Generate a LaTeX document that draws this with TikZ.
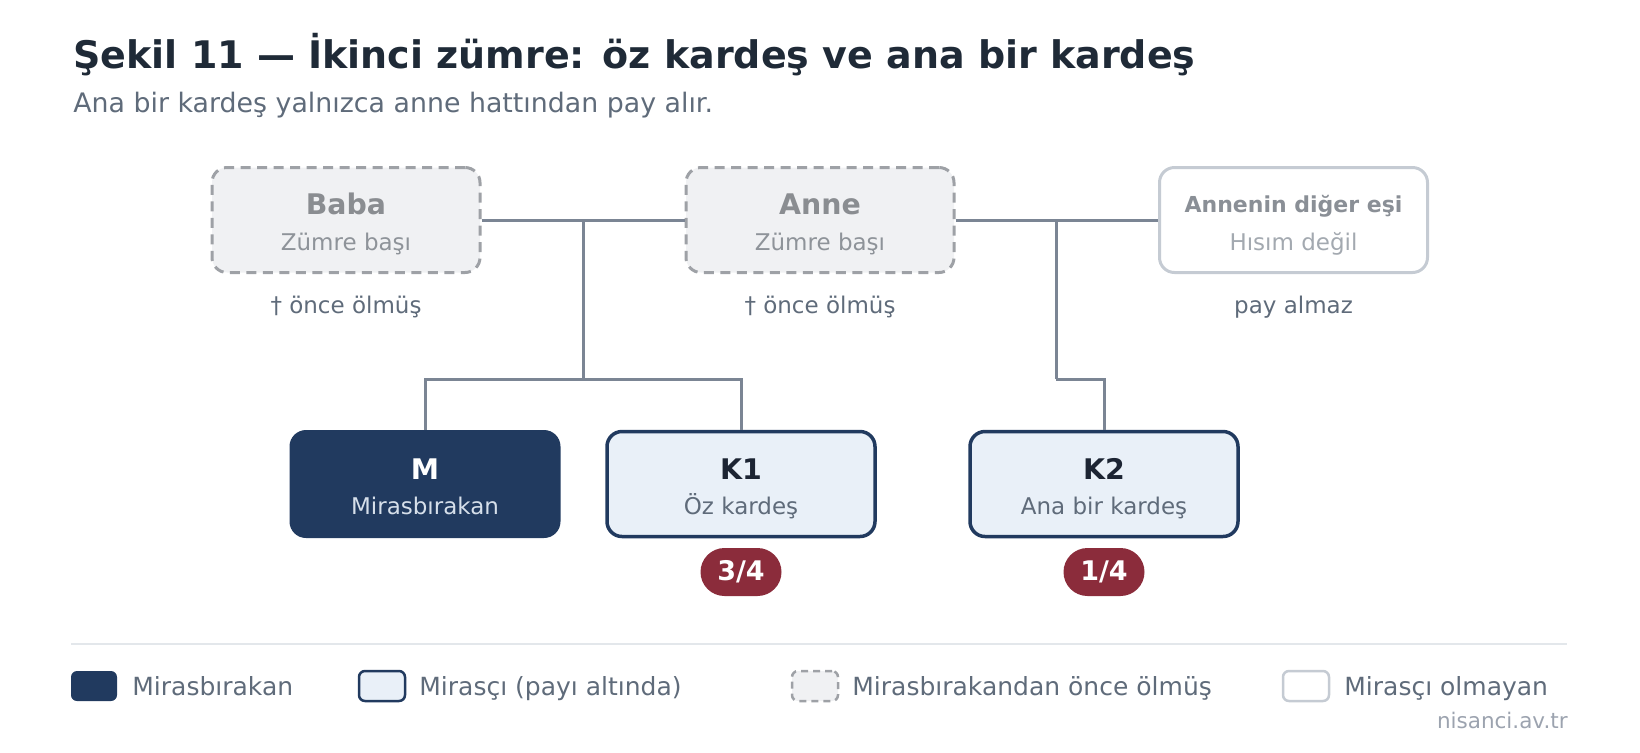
\documentclass[tikz,border=0pt]{standalone}
\usepackage{fontspec}
\setmainfont{DejaVu Sans}
\usepackage{xcolor}
\definecolor{baslikrenk}{HTML}{1F2A37}
\definecolor{gri}{HTML}{5F6B7A}
\definecolor{lacivert}{HTML}{213A5F}
\definecolor{kdolgu}{HTML}{E9F0F8}
\definecolor{kyazi}{HTML}{1C2433}
\definecolor{msoluk}{HTML}{D6DFEA}
\definecolor{oludolgu}{HTML}{F0F1F3}
\definecolor{olucizgi}{HTML}{9EA1A6}
\definecolor{oluyazi}{HTML}{8A8D91}
\definecolor{olualt}{HTML}{8E9399}
\definecolor{yabanci}{HTML}{C5CBD3}
\definecolor{yabanciyazi}{HTML}{8A8F96}
\definecolor{yabancialt}{HTML}{A3A9B0}
\definecolor{bagrenk}{HTML}{7B8594}
\definecolor{payrenk}{HTML}{8B2C3B}
\definecolor{ayracrenk}{HTML}{E3E7EB}
\definecolor{imza}{HTML}{9CA3AF}

\begin{document}
\begin{tikzpicture}[x=0.5pt, y=-0.5pt,
  kutu/.style={rounded corners=7.5pt, minimum width=134pt, minimum height=52.5pt, line width=1.5pt, inner sep=0pt},
  olu/.style={kutu, draw=olucizgi, fill=oludolgu, dash pattern=on 5pt off 3.25pt},
  yabancikutu/.style={kutu, draw=yabanci, fill=white},
  mkutu/.style={kutu, draw=lacivert, fill=lacivert},
  varis/.style={kutu, draw=lacivert, fill=kdolgu, line width=1.75pt},
  isim/.style={anchor=base, inner sep=0pt, font=\fontsize{14.2}{16}\selectfont\bfseries},
  alt/.style={anchor=base, inner sep=0pt, font=\fontsize{11.5}{14}\selectfont},
  not/.style={anchor=base, inner sep=0pt, text=gri, font=\fontsize{11.5}{14}\selectfont},
  pay/.style={fill=payrenk, text=white, rounded corners=12pt, minimum width=40.5pt, minimum height=24pt, inner sep=0pt, font=\fontsize{13.5}{15}\selectfont\bfseries},
  bag/.style={draw=bagrenk, line width=1.5pt},
  lkutu/.style={rounded corners=3pt, minimum width=23pt, minimum height=15pt, inner sep=0pt, line width=1.25pt},
  lyazi/.style={anchor=base west, inner sep=0pt, text=gri, font=\fontsize{12.5}{15}\selectfont}]
  \useasboundingbox (0,0) rectangle (1640,752);

  \node [anchor=base west, inner sep=0pt, text=baslikrenk, font=\fontsize{19}{22}\selectfont\bfseries] (baslik) at (73, 68) {Şekil 11 — İkinci zümre: öz kardeş ve ana bir kardeş};
  \node [anchor=base west, inner sep=0pt, text=gri, font=\fontsize{13.4}{16}\selectfont] (altbaslik) at (73, 112) {Ana bir kardeş yalnızca anne hattından pay alır.};

  \node [olu] (baba) at (346, 220) {};
  \node [isim, text=oluyazi] (babaI) at (346, 214) {Baba};
  \node [alt, text=olualt] (babaA) at (346, 250) {Zümre başı};
  \node [not] (babaN) at (346, 313) {† önce ölmüş};

  \node [olu] (anne) at (820, 220) {};
  \node [isim, text=oluyazi] (anneI) at (820, 214) {Anne};
  \node [alt, text=olualt] (anneA) at (820, 250) {Zümre başı};
  \node [not] (anneN) at (820, 313) {† önce ölmüş};

  \node [yabancikutu] (es) at (1293.5, 220) {};
  \node [isim, text=yabanciyazi, font=\fontsize{11}{14}\selectfont\bfseries] (esI) at (1293.5, 212) {Annenin diğer eşi};
  \node [alt, text=yabancialt] (esA) at (1293.5, 250) {Hısım değil};
  \node [not] (esN) at (1293.5, 313) {pay almaz};

  \node [mkutu] (m) at (425, 484) {};
  \node [isim, text=white] (mI) at (425, 479) {M};
  \node [alt, text=msoluk] (mA) at (425, 514) {Mirasbırakan};

  \node [varis] (k1) at (741, 484) {};
  \node [isim, text=kyazi] (k1I) at (741, 479) {K1};
  \node [alt, text=gri] (k1A) at (741, 514) {Öz kardeş};
  \node [pay] (k1P) at (741, 572) {3/4};

  \node [varis] (k2) at (1104, 484) {};
  \node [isim, text=kyazi] (k2I) at (1104, 479) {K2};
  \node [alt, text=gri] (k2A) at (1104, 514) {Ana bir kardeş};
  \node [pay] (k2P) at (1104, 572) {1/4};

  \coordinate (e1) at (583, 220);
  \coordinate (d1) at (583, 379);
  \coordinate (e2) at (1056, 220);
  \coordinate (d2) at (1056, 379);
  \draw [bag] (baba.east) -- (anne.west);
  \draw [bag] (anne.east) -- (es.west);
  \draw [bag] (e1) -- (d1);
  \draw [bag] (m.north) |- (d1);
  \draw [bag] (k1.north) |- (d1);
  \draw [bag] (e2) -- (d2);
  \draw [bag] (k2.north) |- (d2);

  \draw [ayracrenk, line width=1pt] (71, 644) -- (1567, 644);

  \node [lkutu, fill=lacivert] (l1) at (94, 686) {};
  \node [lyazi] (l1Y) at (132, 695) {Mirasbırakan};
  \node [lkutu, draw=lacivert, fill=kdolgu] (l2) at (382, 686) {};
  \node [lyazi] (l2Y) at (419, 695) {Mirasçı (payı altında)};
  \node [lkutu, draw=olucizgi, fill=oludolgu, dash pattern=on 3.5pt off 2.5pt] (l3) at (815, 686) {};
  \node [lyazi] (l3Y) at (852, 695) {Mirasbırakandan önce ölmüş};
  \node [lkutu, draw=yabanci, fill=white] (l4) at (1306, 686) {};
  \node [lyazi] (l4Y) at (1344, 695) {Mirasçı olmayan};

  \node [anchor=base east, inner sep=0pt, text=imza, font=\fontsize{10.75}{13}\selectfont] (site) at (1568, 728) {nisanci.av.tr};
\end{tikzpicture}
\end{document}
